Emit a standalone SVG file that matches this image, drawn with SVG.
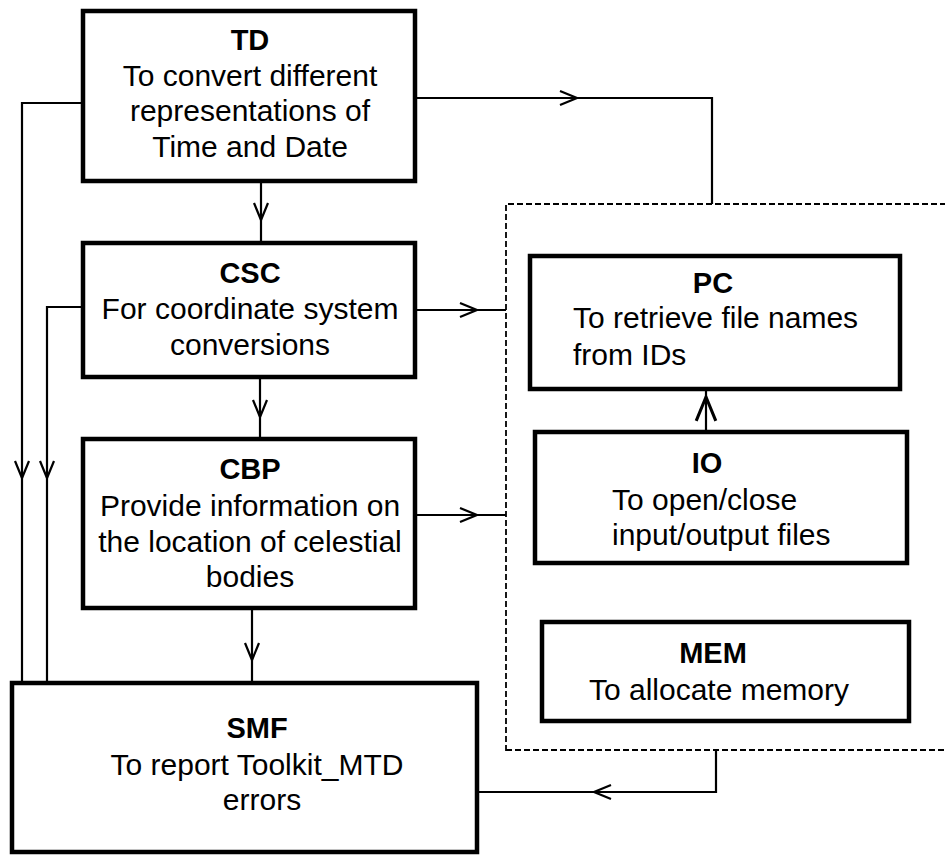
<svg xmlns="http://www.w3.org/2000/svg" xmlns:xlink="http://www.w3.org/1999/xlink" width="945" height="855" viewBox="0 0 945 855">
<style>
.box{fill:#fff;stroke:#000;stroke-width:4.5;stroke-linejoin:miter}
.ln{fill:none;stroke:#000;stroke-width:2.2}
.dash{fill:none;stroke:#000;stroke-width:1.8;stroke-dasharray:6 3}
.t{font-family:"Liberation Sans",Arial,sans-serif;font-size:30px;fill:#000}
.h{font-family:"Liberation Sans",Arial,sans-serif;font-size:29px;font-weight:bold;fill:#000}
.c{text-anchor:middle}
</style>
<defs>
<path id="chev" d="M-17,-7 L0,0 L-17,7" fill="none" stroke="#000" stroke-width="2.2"/>
</defs>
<rect width="945" height="855" fill="#fff"/>
<g id="group-boundary">
<path class="dash" d="M955,204 H506 V754"/>
<path class="dash" d="M506,750 H955"/>
</g>
<g id="connectors">
<path class="ln" d="M83,103 H22 V683"/>
<path class="ln" d="M83,307 H47 V683"/>
<use xlink:href="#chev" transform="translate(22,478) rotate(90)"/>
<use xlink:href="#chev" transform="translate(47,478) rotate(90)"/>
<path class="ln" d="M261,181 V243"/>
<use xlink:href="#chev" transform="translate(261,220) rotate(90)"/>
<path class="ln" d="M260,377 V439"/>
<use xlink:href="#chev" transform="translate(260,417) rotate(90)"/>
<path class="ln" d="M252,608 V683"/>
<use xlink:href="#chev" transform="translate(252,660) rotate(90)"/>
<path class="ln" d="M415,98 H712 V204"/>
<use xlink:href="#chev" transform="translate(577,98)"/>
<path class="ln" d="M415,310 H506"/>
<use xlink:href="#chev" transform="translate(477,310)"/>
<path class="ln" d="M415,515 H506"/>
<use xlink:href="#chev" transform="translate(477,515)"/>
<path class="ln" d="M706,432 V389"/>
<use xlink:href="#chev" transform="translate(706,397) rotate(-90) scale(1.4,1.4)"/>
<path class="ln" d="M716,750 V792 H477"/>
<use xlink:href="#chev" transform="translate(594,792) rotate(180)"/>
</g>
<g id="TD">
<rect class="box" x="83" y="11" width="332" height="170"/>
<text class="h c" x="250" y="50">TD</text>
<text class="t c" x="250" y="86">To convert different</text>
<text class="t c" x="250" y="121">representations of</text>
<text class="t c" x="250" y="157">Time and Date</text>
</g>
<g id="CSC">
<rect class="box" x="83" y="243" width="332" height="134"/>
<text class="h c" x="250" y="283">CSC</text>
<text class="t c" x="250" y="319">For coordinate system</text>
<text class="t c" x="250" y="355">conversions</text>
</g>
<g id="CBP">
<rect class="box" x="83" y="439" width="332" height="169"/>
<text class="h c" x="250" y="479">CBP</text>
<text class="t c" x="250" y="516">Provide information on</text>
<text class="t c" x="250" y="552">the location of celestial</text>
<text class="t c" x="250" y="587">bodies</text>
</g>
<g id="SMF">
<rect class="box" x="12" y="683" width="465" height="169"/>
<text class="h c" x="257" y="738">SMF</text>
<text class="t c" x="257" y="775">To report Toolkit_MTD</text>
<text class="t c" x="262" y="810">errors</text>
</g>
<g id="PC">
<rect class="box" x="530" y="256" width="370" height="133"/>
<text class="h c" x="713" y="293">PC</text>
<text class="t" x="573" y="328">To retrieve file names</text>
<text class="t" x="573" y="365">from IDs</text>
</g>
<g id="IO">
<rect class="box" x="535" y="432" width="372" height="131"/>
<text class="h c" x="707" y="473">IO</text>
<text class="t" x="612" y="510">To open/close</text>
<text class="t" x="612" y="545">input/output files</text>
</g>
<g id="MEM">
<rect class="box" x="542" y="622" width="367" height="99"/>
<text class="h c" x="713" y="663">MEM</text>
<text class="t c" x="719" y="700">To allocate memory</text>
</g>
</svg>
